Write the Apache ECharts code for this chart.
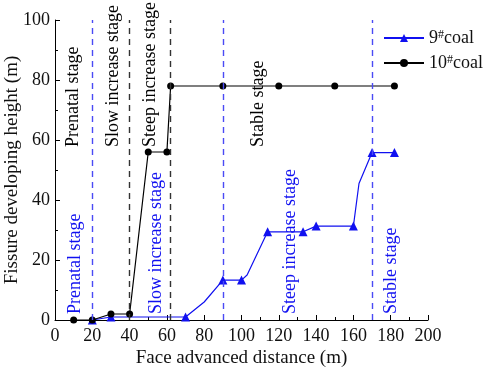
<!DOCTYPE html>
<html><head><meta charset="utf-8">
<script src="https://cdn.jsdelivr.net/npm/echarts@6/dist/echarts.min.js"></script>
<style>html,body{margin:0;padding:0;background:#fff}#c{width:484px;height:375px}</style>
</head><body><div id="c"></div>
<script>
// ---- data ----
var seriesNames = ['9#coal', '10#coal'];
var coal9X = [20, 30, 70, 80, 90, 100, 103, 114, 133, 140, 160, 163, 170, 182];
var coal9Y = [0, 1, 1, 6, 13.3, 13.3, 15, 29.4, 29.4, 31.3, 31.3, 45.5, 55.8, 55.8];
var coal9Marked = [1, 1, 1, 0, 1, 1, 0, 1, 1, 1, 1, 0, 1, 1];
var coal10X = [10, 20, 30, 40, 50, 60, 62, 90, 120, 150, 182];
var coal10Y = [0, 0, 2, 2, 56, 56, 78, 78, 78, 78, 78];
var blueBoundaries = [20, 90, 170];
var blackBoundaries = [40, 62];
var topStageNames = ['Prenatal stage', 'Slow increase stage', 'Steep increase stage', 'Stable stage'];
var topStageX = [9.8, 31.3, 51, 108.8];
var topStageY = [57.7, 57.7, 57.7, 57.7];
var bottomStageNames = ['Prenatal stage', 'Slow increase stage', 'Steep increase stage', 'Stable stage'];
var bottomStageX = [10.7, 54.5, 126, 180.5];
var bottomStageY = [2, 2, 2, 2];
var xTicks = {min: 0, max: 200, step: 20};
var yTicks = {min: 0, max: 100, step: 20};

var FONT = 'Liberation Serif';
var BLUE = '#1010f0';
var chart = echarts.init(document.getElementById('c'));

var d9 = coal9X.map(function (x, i) {
  var item = {value: [x, coal9Y[i]]};
  if (!coal9Marked[i]) item.symbol = 'none';
  return item;
});
var d10 = coal10X.map(function (x, i) { return [x, coal10Y[i]]; });

function vlines(arr) { return arr.map(function (v) { return {xAxis: v}; }); }

var axisCommon = {
  axisLine: {show: true, onZero: false, lineStyle: {color: '#000', width: 1}},
  axisTick: {show: true, inside: true, length: 5, lineStyle: {color: '#000'}},
  minorTick: {show: true, splitNumber: 2, length: 3, lineStyle: {color: '#000'}},
  splitLine: {show: false},
  axisLabel: {color: '#111', fontFamily: FONT, fontSize: 18},
  nameTextStyle: {color: '#111', fontFamily: FONT, fontSize: 19},
  nameMoveOverlap: false
};

chart.setOption({
  animation: false,
  grid: {left: 55, right: 56, top: 20, bottom: 55, containLabel: false, outerBoundsMode: 'none'},
  xAxis: Object.assign({}, axisCommon, {
    type: 'value', min: xTicks.min, max: xTicks.max, interval: xTicks.step,
    name: 'Face advanced distance (m)', nameLocation: 'middle', nameGap: 29,
    axisLabel: Object.assign({}, axisCommon.axisLabel, {margin: 7})
  }),
  yAxis: Object.assign({}, axisCommon, {
    type: 'value', min: yTicks.min, max: yTicks.max, interval: yTicks.step,
    name: 'Fissure developing height (m)', nameLocation: 'middle', nameGap: 33,
    axisLabel: Object.assign({}, axisCommon.axisLabel, {margin: 5})
  }),
  legend: {
    orient: 'vertical', left: 378, top: 24, itemWidth: 40, itemHeight: 10, itemGap: 5,
    data: seriesNames,
    formatter: function (n) { return n.replace('#', '{s|#}'); },
    textStyle: {fontFamily: FONT, fontSize: 18, color: '#111',
      rich: {s: {fontFamily: FONT, fontSize: 12, color: '#111', verticalAlign: 'top', lineHeight: 18, padding: [0, 0, 8, 0]}}}
  },
  series: [
    {
      name: seriesNames[0], type: 'line', data: d9,
      symbol: 'triangle', symbolSize: 9,
      lineStyle: {color: BLUE, width: 1.2}, itemStyle: {color: BLUE},
      z: 3,
      markLine: {
        silent: true, symbol: 'none', label: {show: false},
        lineStyle: {color: '#4a4af5', type: [6, 5], width: 1.4},
        data: vlines(blueBoundaries)
      }
    },
    {
      name: seriesNames[1], type: 'line', data: d10,
      symbol: 'circle', symbolSize: 7,
      lineStyle: {color: '#000', width: 1.2}, itemStyle: {color: '#000'},
      z: 4,
      markLine: {
        silent: true, symbol: 'none', label: {show: false},
        lineStyle: {color: '#333', type: [6, 5], width: 1.4},
        data: vlines(blackBoundaries)
      }
    }
  ]
});

var g = [];
function addTexts(names, xs, ys, color) {
  names.forEach(function (t, i) {
    var p = chart.convertToPixel({gridIndex: 0}, [xs[i], ys[i]]);
    g.push({
      type: 'text', x: p[0], y: p[1], rotation: Math.PI / 2, z: 10,
      style: {text: t, fill: color, font: '18px "' + FONT + '"',
        textAlign: 'left', textVerticalAlign: 'middle', align: 'left', verticalAlign: 'middle'}
    });
  });
}
addTexts(topStageNames, topStageX, topStageY, '#000');
addTexts(bottomStageNames, bottomStageX, bottomStageY, BLUE);
chart.setOption({graphic: g});
</script></body></html>
